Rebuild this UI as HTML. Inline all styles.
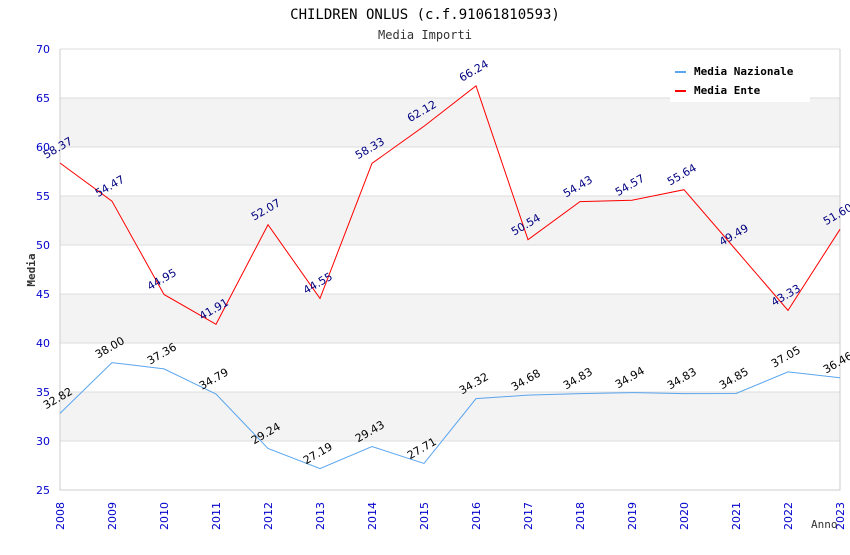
<!DOCTYPE html>
<html><head><meta charset="utf-8"><style>
body{margin:0;background:#fff;width:850px;height:550px;overflow:hidden}
svg text{font-family:"DejaVu Sans Mono","Liberation Mono",monospace}
svg text.sans{font-family:"DejaVu Sans","Liberation Sans",sans-serif}
</style></head><body>
<svg id="chart" width="850" height="550" xmlns="http://www.w3.org/2000/svg">
<text x="425" y="19" text-anchor="middle" font-size="14" fill="#000">CHILDREN ONLUS (c.f.91061810593)</text>
<text x="425" y="39" text-anchor="middle" font-size="12" fill="#333">Media Importi</text>
<g id="bands"></g><g id="grid"></g><g id="axes"></g><g id="series"></g><g id="labels"></g>
<text transform="translate(35,270) rotate(-90)" text-anchor="middle" font-size="11" font-weight="bold" fill="#333">Media</text>
<text x="811" y="528" font-size="11" fill="#333">Anno</text>
<g>
<rect x="670" y="58" width="140" height="44" fill="#fff"/>
<rect x="675" y="71" width="11" height="2" fill="#5aa5ef"/>
<text x="694" y="75" font-size="11" font-weight="bold" fill="#000">Media Nazionale</text>
<rect x="675" y="90" width="11" height="2" fill="#ff0000"/>
<text x="694" y="94" font-size="11" font-weight="bold" fill="#000">Media Ente</text>
</g>
</svg>
<script>
const years=[2008,2009,2010,2011,2012,2013,2014,2015,2016,2017,2018,2019,2020,2021,2022,2023];
const nazionale=[32.82,38.00,37.36,34.79,29.24,27.19,29.43,27.71,34.32,34.68,34.83,34.94,34.83,34.85,37.05,36.46];
const ente=[58.37,54.47,44.95,41.91,52.07,44.55,58.33,62.12,66.24,50.54,54.43,54.57,55.64,49.49,43.33,51.60];
const yTicks=[25,30,35,40,45,50,55,60,65,70];
const NS="http://www.w3.org/2000/svg";
const L=60,R=840,T=49,B=490,yMin=25,yMax=70;
const xs=i=>L+(R-L)*i/(years.length-1);
const ys=v=>B-(v-yMin)/(yMax-yMin)*(B-T);
function mk(tag,attrs,parent,txt){const e=document.createElementNS(NS,tag);for(const k in attrs)e.setAttribute(k,attrs[k]);if(txt!==undefined)e.textContent=txt;document.getElementById(parent).appendChild(e);return e;}
for(let i=0;i<yTicks.length-1;i++){
  if(i%2===1){const r=mk('rect',{x:L,y:ys(yTicks[i+1]),width:R-L,height:ys(yTicks[i])-ys(yTicks[i+1]),fill:'#f3f3f3'},'bands');
  
  }
}
yTicks.forEach(v=>{
  const l=mk('line',{x1:L,x2:R,y1:ys(v),y2:ys(v),stroke:'#ddd','stroke-width':1},'grid');
  
  
  const t=mk('text',{x:50,y:ys(v)+4,'text-anchor':'end','font-size':11,fill:'#0000cc',class:'sans'},'axes',v);
  
  
});
const ax=mk('path',{d:`M${L},${T}V${B}H${R}V${T}`,fill:'none',stroke:'#ccc'},'axes');


years.forEach((y,i)=>{
  const t=mk('text',{transform:`translate(${xs(i)+4},${530}) rotate(-90)`,'font-size':11,fill:'#0000cc',class:'sans'},'axes',y);
  
  
});
function series(vals,color,lblColor,name){
  const p=mk('polyline',{points:vals.map((v,i)=>xs(i)+','+ys(v)).join(' '),fill:'none',stroke:color,'stroke-width':1},'series');
  
  
  vals.forEach((v,i)=>{
    const t=mk('text',{transform:`translate(${xs(i)-14},${ys(v)-4}) rotate(-30)`,'font-size':11,fill:lblColor,class:'sans'},'labels',v.toFixed(2));
    
    
  });
}
series(nazionale,'#5aa5ef','#000','nazionale');
series(ente,'#ff0000','#000080','ente');
</script>
</body></html>
